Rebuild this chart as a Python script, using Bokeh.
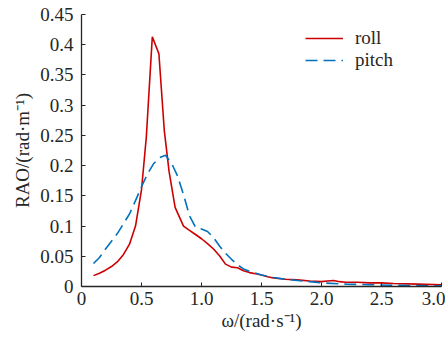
from bokeh.plotting import figure
from bokeh.models import FixedTicker, Legend, LegendItem, Range1d
from bokeh.embed import file_html
from bokeh.resources import INLINE

# ---- data ----
roll_w = [0.10, 0.15, 0.20, 0.25, 0.30, 0.35, 0.40, 0.45, 0.50, 0.54, 0.59, 0.645,
          0.69, 0.73, 0.78, 0.85, 0.90, 0.95, 1.00, 1.05, 1.10, 1.15, 1.20, 1.25,
          1.30, 1.35, 1.40, 1.45, 1.50, 1.55, 1.60, 1.70, 1.80, 1.90, 2.00, 2.05,
          2.10, 2.15, 2.20, 2.30, 2.40, 2.50, 2.60, 2.80, 3.00]
roll_rao = [0.018, 0.022, 0.027, 0.033, 0.041, 0.053, 0.070, 0.100, 0.160, 0.247, 0.413, 0.385,
            0.258, 0.190, 0.131, 0.100, 0.093, 0.086, 0.079, 0.071, 0.062, 0.051, 0.037, 0.032,
            0.031, 0.026, 0.023, 0.021, 0.019, 0.016, 0.014, 0.012, 0.011, 0.009, 0.008, 0.009,
            0.010, 0.008, 0.007, 0.007, 0.006, 0.006, 0.005, 0.004, 0.003]

pitch_w = [0.10, 0.15, 0.20, 0.25, 0.30, 0.35, 0.40, 0.45, 0.50, 0.55, 0.60, 0.65,
           0.70, 0.75, 0.80, 0.85, 0.90, 0.95, 1.00, 1.05, 1.10, 1.15, 1.20, 1.25,
           1.30, 1.35, 1.40, 1.50, 1.60, 1.70, 1.80, 1.90, 2.00, 2.20, 2.40, 2.60, 3.00]
pitch_rao = [0.038, 0.048, 0.062, 0.075, 0.088, 0.104, 0.120, 0.142, 0.165, 0.186, 0.203, 0.213,
             0.217, 0.204, 0.183, 0.152, 0.117, 0.098, 0.095, 0.091, 0.081, 0.067, 0.055, 0.045,
             0.036, 0.029, 0.025, 0.019, 0.015, 0.012, 0.010, 0.008, 0.006, 0.004, 0.003, 0.002, 0.001]

x_ticks = [0, 0.5, 1.0, 1.5, 2.0, 2.5, 3.0]
x_tick_labels = ["0", "0.5", "1.0", "1.5", "2.0", "2.5", "3.0"]
y_ticks = [0, 0.05, 0.1, 0.15, 0.2, 0.25, 0.3, 0.35, 0.4, 0.45]
y_tick_labels = ["0", "0.05", "0.1", "0.15", "0.2", "0.25", "0.3", "0.35", "0.4", "0.45"]
x_label = "ω/(rad·s⁻¹)"
y_label = "RAO/(rad·m⁻¹)"

FONT = "Liberation Serif"
TXT = "#262626"

p = figure(width=445, height=337, output_backend="svg", toolbar_location=None,
           x_range=Range1d(0, 3.0), y_range=Range1d(0, 0.45),
           min_border_left=81, min_border_right=4, min_border_top=14, min_border_bottom=51)
p.outline_line_color = None
p.xgrid.grid_line_color = None
p.ygrid.grid_line_color = None

r1 = p.line(roll_w, roll_rao, line_color="#cc0000", line_width=1.6)
r2 = p.line(pitch_w, pitch_rao, line_color="#0072bd", line_width=1.6, line_dash="12 6")

for axes in (p.xaxis, p.yaxis):
    axes.axis_line_color = TXT
    axes.axis_line_width = 1.3
    axes.major_tick_line_color = TXT
    axes.major_tick_in = 4
    axes.major_tick_out = 0
    axes.minor_tick_line_color = None
    axes.major_label_text_font = FONT
    axes.major_label_text_font_size = "19px"
    axes.major_label_text_color = TXT
    axes.axis_label_text_font = FONT
    axes.axis_label_text_font_size = "19px"
    axes.axis_label_text_font_style = "normal"
    axes.axis_label_text_color = TXT

p.xaxis.ticker = FixedTicker(ticks=x_ticks)
p.xaxis.major_label_overrides = dict(zip(x_ticks, x_tick_labels))
p.yaxis.ticker = FixedTicker(ticks=y_ticks)
p.yaxis.major_label_overrides = dict(zip(y_ticks, y_tick_labels))
p.xaxis.major_label_standoff = 5
p.yaxis.major_label_standoff = 8
p.xaxis.axis_label = x_label
p.yaxis.axis_label = y_label
p.xaxis.axis_label_standoff = 2
p.yaxis.axis_label_standoff = 4

legend = Legend(items=[LegendItem(label="roll", renderers=[r1]),
                       LegendItem(label="pitch", renderers=[r2])],
                location=(224, 215), padding=0, margin=0, spacing=0,
                glyph_width=38, glyph_height=22, label_height=22, label_standoff=12,
                border_line_color=None, background_fill_alpha=0,
                label_text_font=FONT, label_text_font_size="19px", label_text_color=TXT)
p.add_layout(legend, "center")

open("out.html", "w").write(file_html(p, INLINE))
